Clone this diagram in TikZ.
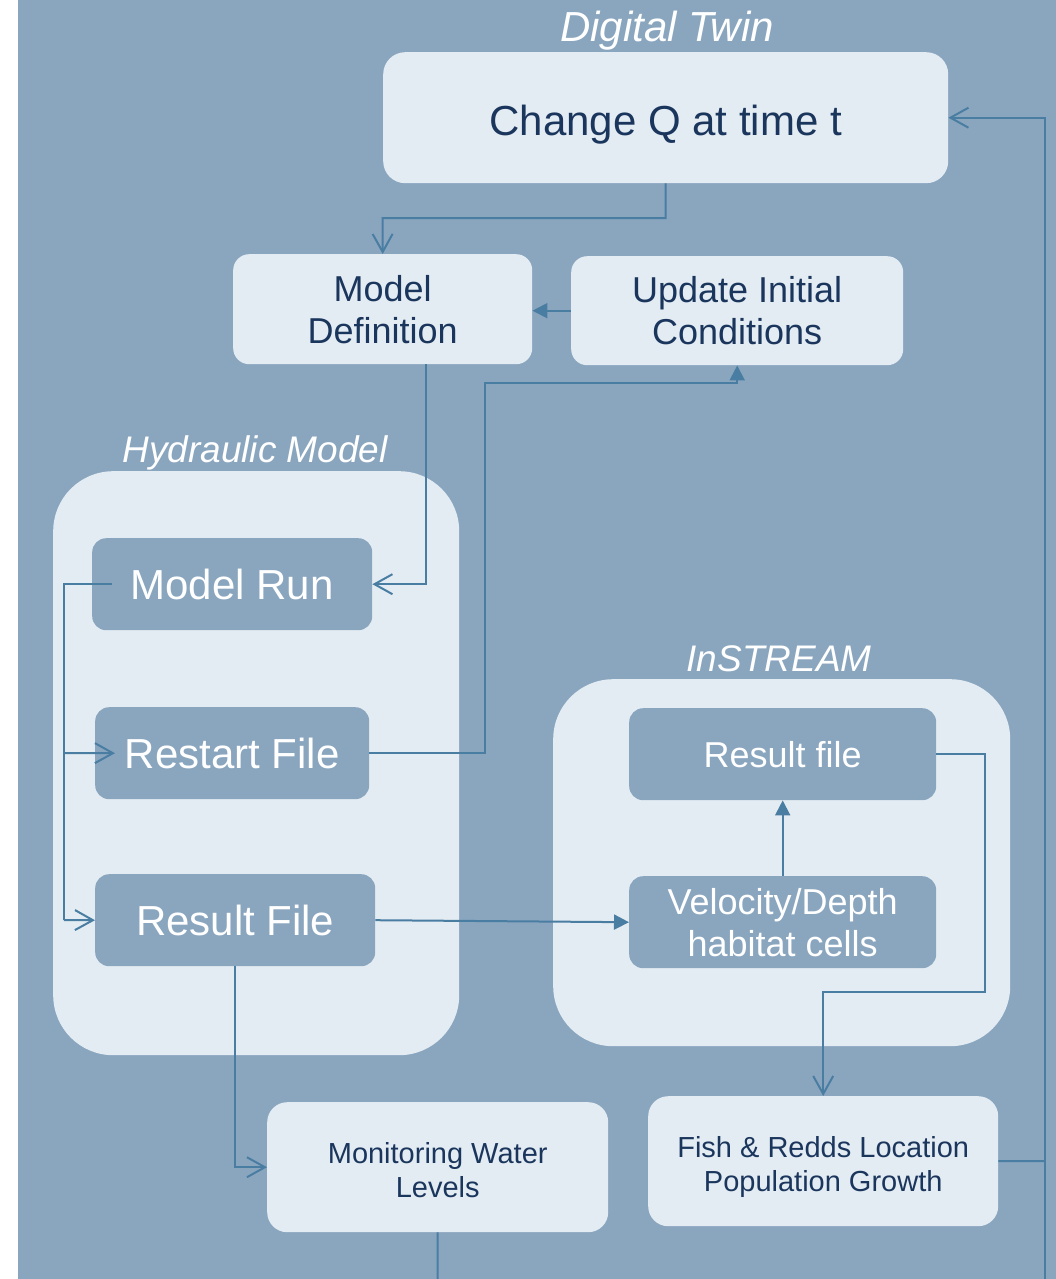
\documentclass[tikz,border=0pt]{standalone}
\usepackage{fontspec}
\setmainfont{Liberation Sans}
\usetikzlibrary{arrows.meta}
\definecolor{bgblue}{HTML}{8AA6BF}
\definecolor{lightbox}{HTML}{E4ECF3}
\definecolor{navy}{HTML}{1B365D}
\definecolor{conn}{HTML}{4A7DA2}
\tikzset{
  lbox/.style={draw=none, fill=lightbox, inner sep=0pt, anchor=north west, text=navy, align=center},
  dbox/.style={draw=none, fill=bgblue, inner sep=0pt, anchor=north west, text=white, align=center, rounded corners=14pt},
  container/.style={draw=none, fill=lightbox, rounded corners=60pt},
  fbig/.style={font=\fontsize{42}{50}\selectfont, text height=30pt, text depth=0pt},
  fmid/.style={font=\fontsize{36}{42}\selectfont, text height=26pt, text depth=0pt},
  fmidtwo/.style={font=\fontsize{36}{42}\selectfont, text height=68pt, text depth=0pt},
  fsmalltwo/.style={font=\fontsize{29}{34}\selectfont, text height=60pt, text depth=0pt},
  title/.style={text=white, anchor=base, inner sep=0pt},
  link/.style={draw=conn, line width=2pt},
  openend/.style={link, -{Straight Barb[length=18pt, width=20pt, line width=2pt]}},
  triend/.style={link, -{Triangle[length=15pt, width=15pt]}},
}
\begin{document}
\begin{tikzpicture}[x=1pt, y=-1pt]
\useasboundingbox (0,0) rectangle (1056,1279);
\fill[white] (0,0) rectangle (18,1279);
\fill[bgblue] (18,0) rectangle (1056,1279);

% titles
\node[title, font=\fontsize{42}{48}\selectfont\itshape] (tdt) at (667,42) {Digital Twin};
\node[title, font=\fontsize{37}{42}\selectfont\itshape] (thm) at (255,462) {Hydraulic Model};
\node[title, font=\fontsize{37}{42}\selectfont\itshape] (tis) at (779,671) {InSTREAM};

% containers
\node[container, minimum width=406pt, minimum height=584pt, anchor=north west, inner sep=0pt] (hyd) at (53,471) {};
\node[container, minimum width=457pt, minimum height=367pt, anchor=north west, inner sep=0pt] (ins) at (553,679) {};

% top boxes
\node[lbox, fbig, text height=35pt, rounded corners=22pt, minimum width=565pt, minimum height=131pt] (cq) at (383,52) {Change Q at time t};
\node[lbox, fmidtwo, rounded corners=16pt, minimum width=299pt, minimum height=110pt] (md) at (233,254) {Model\\Definition};
\node[lbox, fmidtwo, rounded corners=16pt, minimum width=332pt, minimum height=109pt] (ui) at (571,256) {Update Initial\\Conditions};

% hydraulic boxes
\node[dbox, fbig, minimum width=280pt, minimum height=92pt] (mr) at (92,538) {Model Run};
\node[dbox, fbig, minimum width=274pt, minimum height=92pt] (rs) at (95,707) {Restart File};
\node[dbox, fbig, minimum width=280pt, minimum height=92pt] (rf) at (95,874) {Result File};

% instream boxes
\node[dbox, fmid, minimum width=307pt, minimum height=92pt] (rr) at (629,708) {Result file};
\node[dbox, fmidtwo, minimum width=307pt, minimum height=92pt] (vd) at (629,876) {Velocity/Depth\\habitat cells};

% bottom boxes
\node[lbox, fsmalltwo, rounded corners=20pt, minimum width=341pt, minimum height=130pt] (mon) at (267,1102) {Monitoring Water\\Levels};
\node[lbox, fsmalltwo, rounded corners=20pt, minimum width=350pt, minimum height=130pt] (fish) at (648,1096) {Fish \& Redds Location\\Population Growth};

% connectors
\draw[openend] (cq.south) |- (382.5,218) -- (md.north);
\draw[triend] (ui.west) -- (ui.west -| md.east);
\draw[openend] ([xshift=43.5pt]md.south) |- (mr.east);
\draw[link] ([xshift=20pt]mr.west) -| (64,920);
\draw[openend] (64,753) -- ([xshift=20pt]rs.west);
\draw[openend] (64,920) -- (rf.west);
\draw[triend] (rs.east) -| (485,383) -| (ui.south);
\draw[triend] (rf.east) -- (vd.west);
\draw[triend] (vd.north) -- (rr.south);
\draw[openend] (rr.east) -| (985,992) -| (fish.north);
\draw[openend] (rf.south) |- (mon.west);
\draw[link] (mon.south) -- (437.5,1279);
\draw[link] (fish.east) -- (1045,1161);
\draw[openend] (1045,1279) |- (cq.east);
\end{tikzpicture}
\end{document}
